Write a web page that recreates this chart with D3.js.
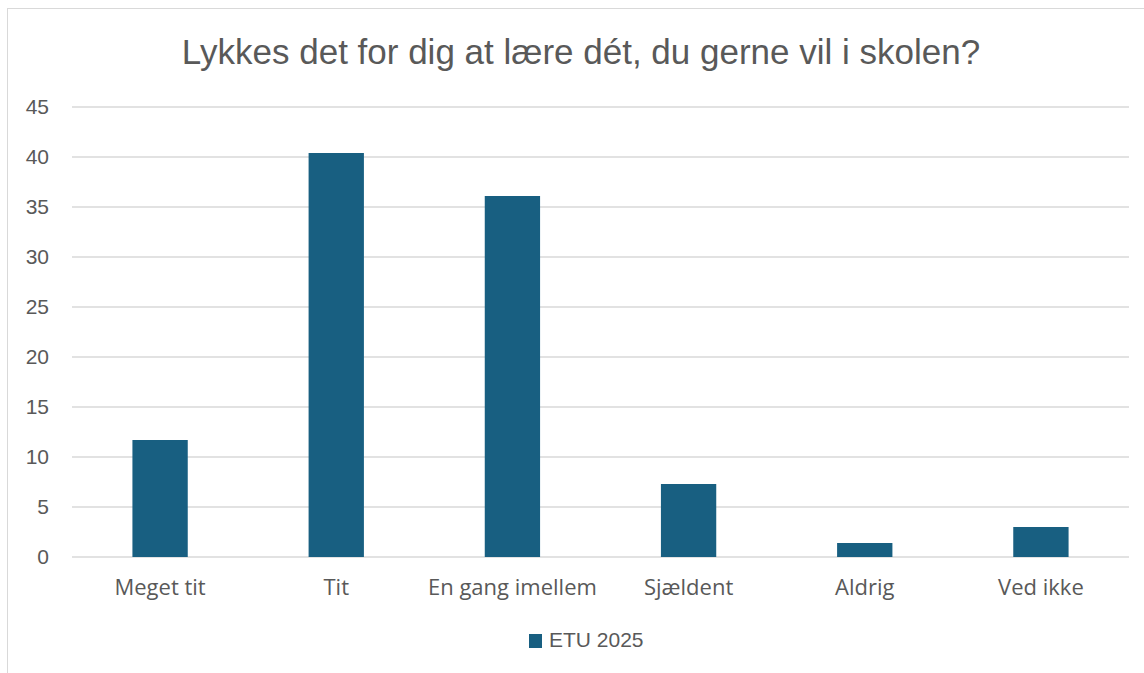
<!DOCTYPE html>
<html>
<head>
<meta charset="utf-8">
<script src="https://cdn.jsdelivr.net/npm/d3@7"></script>
<style>
  body { margin: 0; background: #fff; }
  text { font-family: "Liberation Sans", Arial, sans-serif; fill: #595959; }
</style>
</head>
<body>
<svg id="chartSVG" width="1144" height="673"></svg>
<script>
var categories = ['Meget tit', 'Tit', 'En gang imellem', 'Sjældent', 'Aldrig', 'Ved ikke'];
var values = [11.7, 40.4, 36.1, 7.3, 1.4, 3.0];
var yTicks = [0, 5, 10, 15, 20, 25, 30, 35, 40, 45];
var seriesName = 'ETU 2025';
var title = 'Lykkes det for dig at lære dét, du gerne vil i skolen?';

var barColor = '#185f81';
var svg = d3.select('#chartSVG');

// chart frame
svg.append('rect')
  .attr('x', 7.5).attr('y', 8.5)
  .attr('width', 1150).attr('height', 680)
  .attr('fill', 'none').attr('stroke', '#d9d9d9');

var plotLeft = 72, plotRight = 1129, plotTop = 107, plotBottom = 557;

var x = d3.scaleBand().domain(categories).range([plotLeft, plotRight]).paddingInner(0.686).paddingOuter(0.343);
var y = d3.scaleLinear().domain([0, 45]).range([plotBottom, plotTop]);

// gridlines
svg.append('g')
  .selectAll('line')
  .data(yTicks)
  .enter()
  .append('line')
  .attr('x1', plotLeft).attr('x2', plotRight)
  .attr('y1', function(d) { return y(d); })
  .attr('y2', function(d) { return y(d); })
  .attr('stroke', '#d9d9d9')
  .attr('stroke-width', 1.5);

// y axis labels
var yAxis = d3.axisLeft(y).tickValues(yTicks).tickSize(0).tickPadding(0);
var ya = svg.append('g').attr('transform', 'translate(49,0)').call(yAxis);
ya.select('.domain').remove();
ya.selectAll('text')
  .attr('font-size', 21)
  .style('font-family', '"Liberation Sans", Arial, sans-serif')
  .attr('fill', '#595959');

// bars
svg.append('g')
  .selectAll('rect')
  .data(values)
  .enter()
  .append('rect')
  .attr('x', function(d, i) { return x(categories[i]); })
  .attr('width', x.bandwidth())
  .attr('y', function(d) { return y(d); })
  .attr('height', function(d) { return y(0) - y(d); })
  .attr('fill', barColor);

// category labels
var xAxis = d3.axisBottom(x).tickSize(0).tickPadding(0);
var xa = svg.append('g').attr('transform', 'translate(0,' + (plotBottom + 22) + ')').call(xAxis);
xa.select('.domain').remove();
xa.selectAll('text')
  .attr('dy', '0.72em')
  .attr('font-size', 22)
  .style('font-family', '"Open Sans", sans-serif')
  .attr('fill', '#595959');

// title
svg.append('text')
  .attr('x', 581).attr('y', 64)
  .attr('text-anchor', 'middle')
  .attr('font-size', 35)
  .text(title);

// legend
var legend = svg.append('g').attr('transform', 'translate(529,634)');
legend.append('rect').attr('width', 13).attr('height', 14).attr('fill', barColor);
legend.append('text')
  .attr('x', 20).attr('y', 13)
  .attr('font-size', 21)
  .text(seriesName);
</script>
</body>
</html>
